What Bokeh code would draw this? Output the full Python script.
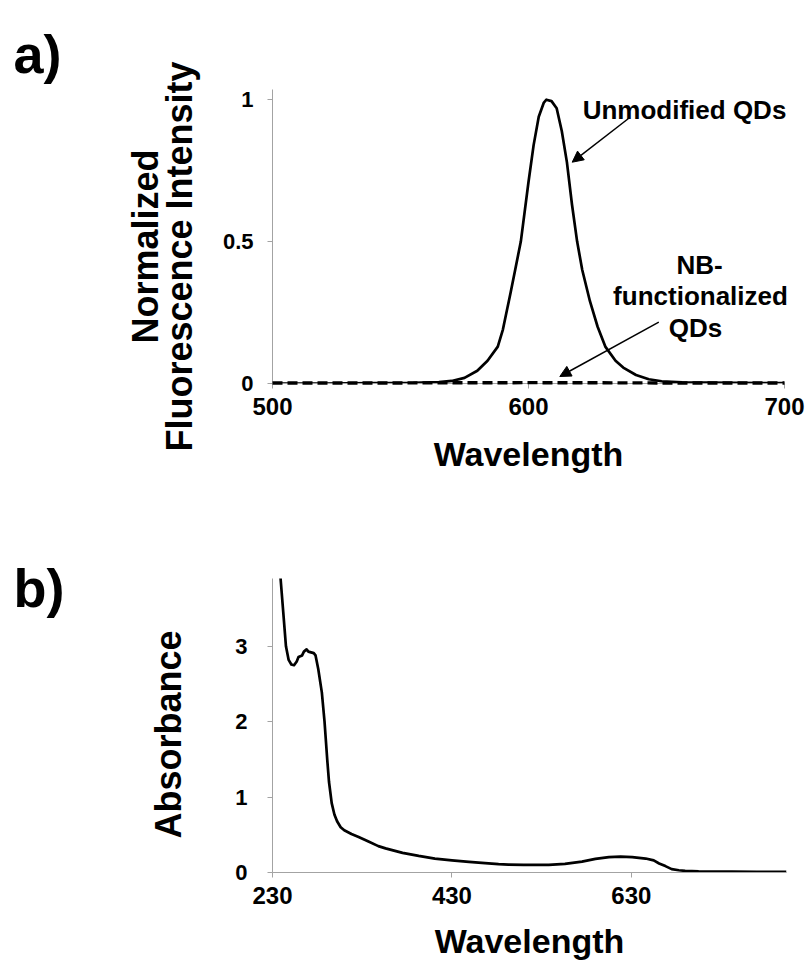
import math
from bokeh.plotting import figure
from bokeh.models import Range1d, FixedTicker, Arrow, NormalHead, CustomJSTickFormatter
from bokeh.core.properties import value
from bokeh.layouts import column
from bokeh.embed import file_html
from bokeh.resources import INLINE

FONT = "Liberation Sans"

# ---------------- panel a: fluorescence ----------------
fl_wavelength = [500, 520, 540, 555, 565, 570, 575, 580, 584, 588, 590, 593, 595, 597,
                 600, 602, 604, 606, 607, 609, 611, 613, 615, 617, 619, 621, 624, 627,
                 630, 634, 637, 642, 647, 652, 660, 680, 700]
fl_unmodified = [0.0, 0.0, 0.001, 0.002, 0.005, 0.009, 0.02, 0.045, 0.08, 0.13, 0.19, 0.32,
                 0.41, 0.5, 0.71, 0.84, 0.94, 0.99, 1.0, 0.995, 0.97, 0.89, 0.78, 0.63,
                 0.5, 0.4, 0.29, 0.2, 0.13, 0.08, 0.056, 0.03, 0.015, 0.008, 0.004, 0.002, 0.001]
fl_nb_wavelength = [500, 550, 600, 650, 700]
fl_nb = [0.002, 0.002, 0.003, 0.002, 0.002]
fl_xticks = [500, 600, 700]
fl_yticks = [0, 0.5, 1]

# ---------------- panel b: absorbance ----------------
abs_wavelength = [236, 239, 242, 245, 248, 251, 254, 257, 259, 261, 263, 265, 268, 270,
                  273, 276, 278, 281, 285, 288, 291, 293, 296, 299, 302, 306, 310, 318,
                  326, 337, 348, 356, 375, 393, 411, 430, 449, 467, 482, 493, 510, 538,
                  556, 575, 590, 605, 618, 631, 646, 655, 661, 668, 675, 683, 690, 705,
                  742, 770, 803]
abs_values = [4.6, 3.9, 3.45, 3.0, 2.82, 2.76, 2.75, 2.8, 2.86, 2.87, 2.88, 2.93, 2.96, 2.93,
              2.92, 2.91, 2.88, 2.7, 2.39, 2.0, 1.5, 1.2, 0.92, 0.77, 0.68, 0.6, 0.56, 0.51,
              0.47, 0.41, 0.35, 0.32, 0.26, 0.22, 0.185, 0.16, 0.14, 0.125, 0.11, 0.105, 0.1, 0.1,
              0.115, 0.145, 0.18, 0.205, 0.21, 0.205, 0.185, 0.16, 0.12, 0.085, 0.045, 0.03, 0.022, 0.016,
              0.011, 0.01, 0.01]
abs_xticks = [230, 430, 630]
abs_yticks = [0, 1, 2, 3]

AXIS_GRAY = "#a3a3a3"
A_H = 479             # height of panel a
B_H = 966 - A_H       # height of panel b
FRAME_LEFT = 272


def style(p, xticks, yticks, ylab_standoff, xlab_standoff):
    p.xgrid.visible = False
    p.ygrid.visible = False
    p.outline_line_color = None
    for ax in (p.xaxis[0], p.yaxis[0]):
        ax.axis_line_color = AXIS_GRAY
        ax.axis_line_width = 1
        ax.major_tick_line_color = AXIS_GRAY
        ax.minor_tick_line_color = None
        ax.major_tick_in = 0
        ax.major_tick_out = 5
        ax.major_label_text_font = FONT
        ax.major_label_text_font_style = "bold"
        ax.major_label_text_color = "black"
    p.xaxis[0].ticker = FixedTicker(ticks=xticks)
    p.yaxis[0].ticker = FixedTicker(ticks=yticks)
    p.yaxis[0].formatter = CustomJSTickFormatter(code="return tick.toString();")
    p.xaxis[0].major_label_text_font_size = "24px"
    p.yaxis[0].major_label_text_font_size = "22px"
    p.xaxis[0].major_label_standoff = 9
    p.yaxis[0].major_label_standoff = ylab_standoff
    p.xaxis[0].axis_label = "Wavelength"
    p.xaxis[0].axis_label_text_font = FONT
    p.xaxis[0].axis_label_text_font_style = "bold"
    p.xaxis[0].axis_label_text_font_size = "34px"
    p.xaxis[0].axis_label_text_color = "black"
    p.xaxis[0].axis_label_standoff = xlab_standoff


def texts(p, conv, items, size, align="center", angle=0.0):
    xs, ys, ts = [], [], []
    for (px, py, t) in items:
        x, y = conv(px, py)
        xs.append(x)
        ys.append(y)
        ts.append(t)
    p.text(x=xs, y=ys, text=ts, angle=angle, text_font=value(FONT), text_font_style="bold",
           text_font_size=size, text_color="black", text_align=align,
           text_baseline="alphabetic", level="overlay")


# ---- panel a ----
A_LEFT, A_RIGHT, A_TOP, A_BOTTOM = float(FRAME_LEFT), FRAME_LEFT + 512.0, 89.0, 383.0
A_X0, A_X1, A_Y0, A_Y1 = 500, 700, 0.0, 1.036

fa = figure(frame_width=512, frame_height=294, output_backend="svg", toolbar_location=None,
            title=None, x_range=Range1d(A_X0, A_X1), y_range=Range1d(A_Y0, A_Y1),
            min_border_left=FRAME_LEFT, min_border_right=22,
            min_border_top=int(A_TOP), min_border_bottom=int(A_H - A_BOTTOM))
style(fa, fl_xticks, fl_yticks, 14, 17)


def pa(px, py):
    x = A_X0 + (px - A_LEFT) / (A_RIGHT - A_LEFT) * (A_X1 - A_X0)
    y = A_Y0 + (A_BOTTOM - py) / (A_BOTTOM - A_TOP) * (A_Y1 - A_Y0)
    return x, y


fa.line(fl_wavelength, fl_unmodified, line_color="black", line_width=2.7, line_join="round")
fa.line(fl_nb_wavelength, fl_nb, line_color="black", line_width=3.4, line_dash="10 5",
        level="overlay")

texts(fa, pa, [(684, 109, "Unmodified QDs"), (699, 264, "NB-"),
               (700, 295, "functionalized"), (695, 327, "QDs")], "26px")
texts(fa, pa, [(13, 53, "a)")], "54px", align="left")
texts(fa, pa, [(145, 246, "Normalized"), (179, 251, "Fluorescence  Intensity")], "36px",
      angle=math.pi / 2)

for (sx, sy, ex, ey) in [(628, 118, 571.7, 161.7), (658.3, 321.7, 559.3, 376)]:
    xs, ys = pa(sx, sy)
    xe, ye = pa(ex, ey)
    fa.add_layout(Arrow(end=NormalHead(size=11, fill_color="black", line_color="black"),
                        x_start=xs, y_start=ys, x_end=xe, y_end=ye,
                        line_color="black", line_width=1.5))

# ---- panel b ----
B_OFF = A_H
B_LEFT, B_RIGHT, B_TOP, B_BOTTOM = float(FRAME_LEFT), FRAME_LEFT + 514.0, 578.0, 872.0
B_X0, B_X1, B_Y0, B_Y1 = 230, 803, 0.0, 3.9

fb = figure(frame_width=514, frame_height=294, output_backend="svg", toolbar_location=None,
            title=None, x_range=Range1d(B_X0, B_X1), y_range=Range1d(B_Y0, B_Y1),
            min_border_left=FRAME_LEFT, min_border_right=20,
            min_border_top=int(B_TOP - B_OFF), min_border_bottom=int(966 - B_BOTTOM))
style(fb, abs_xticks, abs_yticks, 20, 15)


def pb(px, py):
    x = B_X0 + (px - B_LEFT) / (B_RIGHT - B_LEFT) * (B_X1 - B_X0)
    y = B_Y0 + (B_BOTTOM - py) / (B_BOTTOM - B_TOP) * (B_Y1 - B_Y0)
    return x, y


fb.line(abs_wavelength, abs_values, line_color="black", line_width=2.7, line_join="round")

texts(fb, pb, [(13, 587, "b)")], "54px", align="left")
texts(fb, pb, [(168, 734, "Absorbance")], "36px", angle=math.pi / 2)

layout = column(fa, fb, spacing=0)
open("out.html", "w").write(file_html(layout, INLINE))
